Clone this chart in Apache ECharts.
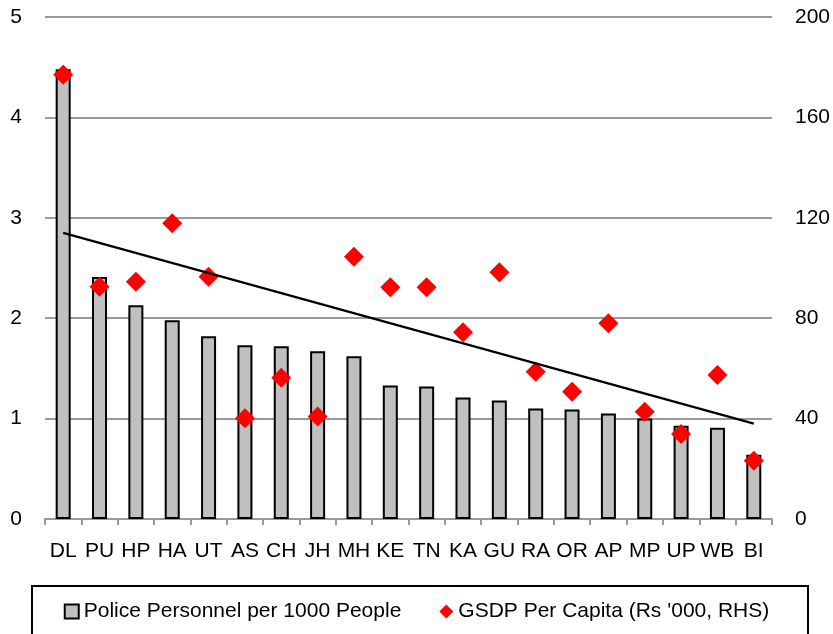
<!DOCTYPE html>
<html lang="en">
<head>
  <meta charset="UTF-8">
  <title>Police vs GSDP</title>
  <script src="https://cdn.jsdelivr.net/npm/echarts@6/dist/echarts.min.js"></script>
  <style>
    html, body { margin:0; padding:0; background:#fff; }
    #main { width:833px; height:634px; }
  </style>
</head>
<body>
<div id="main"></div>
<script>
  var states = ['DL','PU','HP','HA','UT','AS','CH','JH','MH','KE','TN','KA','GU','RA','OR','AP','MP','UP','WB','BI'];
  var police = [4.48,2.41,2.13,1.98,1.82,1.73,1.72,1.67,1.62,1.33,1.32,1.21,1.18,1.10,1.09,1.05,1.00,0.93,0.91,0.64];
  var gsdp = [177,92.5,94.5,117.8,96.5,40.1,56.3,40.8,104.5,92.3,92.3,74.4,98.3,58.7,50.7,78,42.7,33.9,57.4,23.2];
  // trend line end points (RHS scale), first and last state
  var trendEnds = [114, 38];

  var font = '"Liberation Sans", Arial, sans-serif';
  var chart = echarts.init(document.getElementById('main'));

  chart.setOption({
    animation:false,
    backgroundColor:'#fff',
    textStyle:{fontFamily:font},
    grid:{left:45,right:61,top:17,bottom:115},
    graphic:[{
      type:'rect',
      shape:{x:32,y:586,width:776,height:60},
      style:{fill:'none',stroke:'#000',lineWidth:2}
    }],
    legend:{
      top:596,left:'center',
      itemGap:38,itemWidth:14,itemHeight:14,
      textStyle:{fontFamily:font,fontSize:21,color:'#000'},
      data:[
        {name:'Police Personnel per 1000 People',icon:'rect'},
        {name:"GSDP Per Capita (Rs '000, RHS)",icon:'diamond'}
      ]
    },
    xAxis:{
      type:'category',
      data:states,
      axisLine:{lineStyle:{color:'#999',width:2}},
      axisTick:{show:true,length:6,lineStyle:{color:'#999',width:2}},
      axisLabel:{color:'#000',fontSize:21,fontFamily:font,margin:22,interval:0}
    },
    yAxis:[{
      type:'value',min:0,max:5,interval:1,
      axisLine:{show:false},axisTick:{show:false},
      axisLabel:{color:'#000',fontSize:21,fontFamily:font,margin:23},
      splitLine:{lineStyle:{color:'#999',width:2}}
    },{
      type:'value',min:0,max:200,interval:40,
      axisLine:{show:false},axisTick:{show:false},
      axisLabel:{color:'#000',fontSize:21,fontFamily:font,margin:23},
      splitLine:{show:false}
    }],
    series:[{
      name:'Police Personnel per 1000 People',
      type:'bar',
      barWidth:15,
      data:police,
      itemStyle:{color:'#c0c0c0',borderColor:'#000',borderWidth:2}
    },{
      name:"GSDP Per Capita (Rs '000, RHS)",
      type:'scatter',
      yAxisIndex:1,
      symbol:'diamond',
      symbolSize:20,
      data:gsdp,
      itemStyle:{color:'#ff0000',opacity:1},
      z:3
    },{
      name:'trend',
      type:'line',
      yAxisIndex:1,
      symbol:'none',
      data:[[states[0],trendEnds[0]],[states[states.length-1],trendEnds[1]]],
      lineStyle:{color:'#000',width:2.2},
      z:4
    }]
  });
</script>
</body>
</html>
